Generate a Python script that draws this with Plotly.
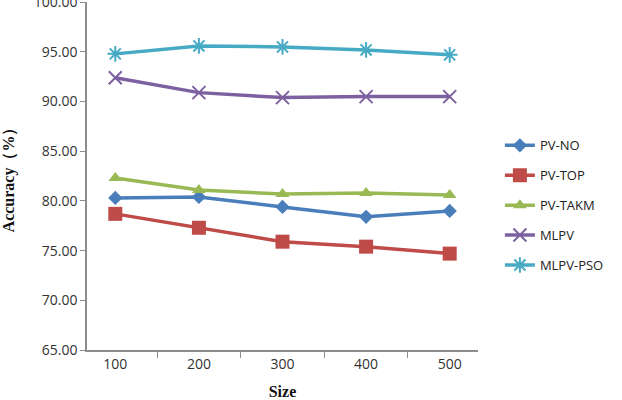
import plotly.graph_objects as go

sizes = ["100", "200", "300", "400", "500"]
series_names = ["PV-NO", "PV-TOP", "PV-TAKM", "MLPV", "MLPV-PSO"]
pv_no = [80.3, 80.4, 79.4, 78.4, 79.0]
pv_top = [78.7, 77.3, 75.9, 75.4, 74.7]
pv_takm = [82.3, 81.1, 80.7, 80.8, 80.6]
mlpv = [92.4, 90.9, 90.4, 90.5, 90.5]
mlpv_pso = [94.8, 95.6, 95.5, 95.2, 94.7]
y_ticks = [65, 70, 75, 80, 85, 90, 95, 100]

values = [pv_no, pv_top, pv_takm, mlpv, mlpv_pso]
colors = ["#4A7EBB", "#BE4B48", "#98B954", "#7D60A0", "#46AAC5"]
symbols = ["diamond", "square", "triangle-up", "x-thin", "asterisk"]
msizes = [11, 14, 12, 13, 13]

fig = go.Figure()
for i, (name, vals) in enumerate(zip(series_names, values)):
    thin = symbols[i] in ("x-thin", "asterisk")
    fig.add_trace(go.Scatter(
        x=sizes, y=vals, name=name, mode="lines+markers",
        legendgroup=name,
        line=dict(color=colors[i], width=3.5),
        marker=dict(symbol=symbols[i], size=msizes[i], color=colors[i],
                    line=dict(color=colors[i], width=2 if thin else 0)),
    ))

fig.update_layout(
    width=622, height=400,
    margin=dict(l=87, r=144, t=2, b=50),
    paper_bgcolor="white", plot_bgcolor="white",
    font=dict(family="Open Sans, Liberation Sans, sans-serif", size=14, color="#333333"),
    showlegend=True,
    legend=dict(x=1.056, y=0.631, xanchor="left", yanchor="top",
                font=dict(size=13, color="#222222"),
                tracegroupgap=10, itemwidth=30, traceorder="grouped"),
    xaxis=dict(type="category", showline=True, linecolor="#8c8c8c", linewidth=1.5,
               ticks="outside", ticklen=6, tickcolor="#8c8c8c", tickson="boundaries",
               showgrid=False, zeroline=False, automargin=False,
               title=dict(text="<b>Size</b>", standoff=16,
                          font=dict(family="Liberation Serif, serif", size=16, color="#111111"))),
    yaxis=dict(range=[65, 100.02], tickvals=y_ticks, tickformat=".2f", showline=True,
               ticklabeloverflow="allow", automargin=False,
               linecolor="#8c8c8c", linewidth=1.5, ticks="outside", ticklen=5,
               tickcolor="#8c8c8c", showgrid=False, zeroline=False,
               title=dict(text="<b>Accuracy（%）</b>", standoff=20,
                          font=dict(family="Liberation Serif, serif", size=16, color="#111111"))),
)

fig.write_html("out.html")
